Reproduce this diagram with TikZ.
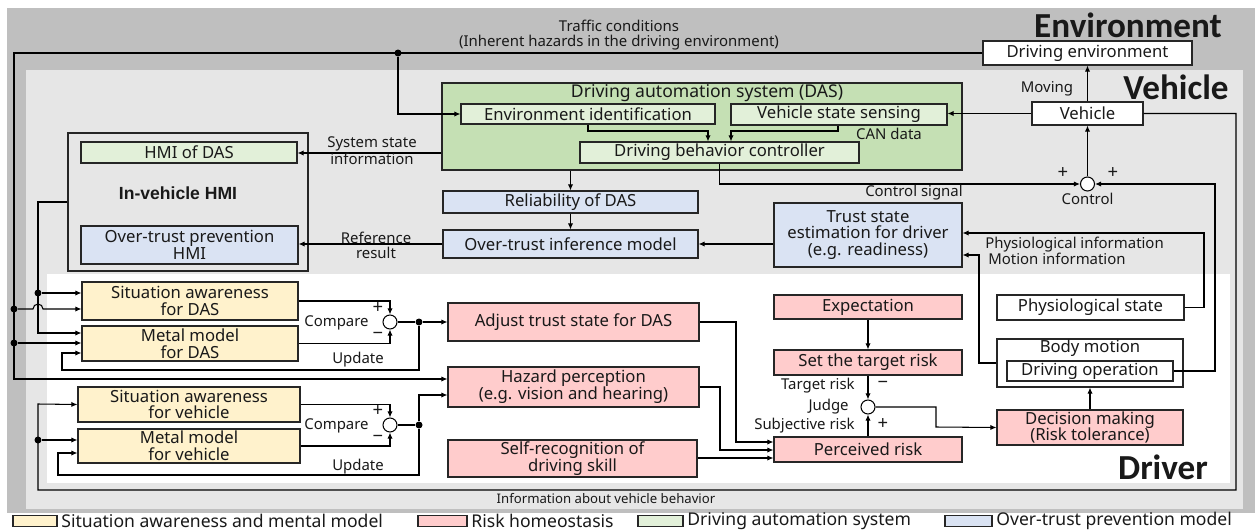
\documentclass[tikz,border=0pt]{standalone}
\usepackage{fontspec}
\setmainfont{Noto Sans}
\newfontfamily\titlefont{Carlito}
\newfontfamily\hmifont{Liberation Sans}
\usetikzlibrary{calc, arrows.meta, positioning}

\definecolor{envgray}{HTML}{BFBFBF}
\definecolor{vehgray}{HTML}{E6E6E6}
\definecolor{sayellow}{HTML}{FFF2CC}
\definecolor{riskpink}{HTML}{FFCCCC}
\definecolor{dasgreen}{HTML}{C5E0B4}
\definecolor{dasinner}{HTML}{E2F0D9}
\definecolor{otblue}{HTML}{DAE3F3}

\tikzset{wh/.style 2 args={minimum width=#1*0.02cm, minimum height=#2*0.02cm}}

\begin{document}
\begin{tikzpicture}[x=0.02cm, y=-0.02cm, font=\fontsize{9.5}{9.5}\selectfont, text=black!90]
	\tikzstyle{box} = [draw=black!85, line width=0.6pt, rectangle, inner sep=0pt, align=center]
	\tikzstyle{sabox} = [box, fill=sayellow]
	\tikzstyle{riskbox} = [box, fill=riskpink]
	\tikzstyle{dasbox} = [box, fill=dasinner]
	\tikzstyle{otbox} = [box, fill=otblue]
	\tikzstyle{plain} = [box, fill=white]
	\tikzstyle{sum} = [circle, draw=black, line width=0.6pt, fill=white, inner sep=0pt, minimum size=0.28cm]
	\tikzstyle{dot} = [circle, fill=black, inner sep=0pt, minimum size=0.14cm]
	\tikzstyle{arrow} = [line width=0.6pt, -{Latex[length=3.5pt, width=3pt]}]
	\tikzstyle{line} = [line width=0.6pt]
	\tikzstyle{lbl} = [inner sep=0pt, font=\fontsize{8.5}{8.5}\selectfont, align=center]
	\tikzstyle{sign} = [inner sep=0pt, font=\fontsize{10.5}{10.5}\selectfont]
	\tikzstyle{legendtext} = [inner sep=0pt, font=\fontsize{10}{10}\selectfont]

	\useasboundingbox (0,0) rectangle (1255,531);
	\fill[envgray] (7,8) rectangle (1255,513);
	\fill[vehgray] (26,70) rectangle (1243,509);
	\fill[white] (47,274) rectangle (1230,483);

	\node[font=\titlefont\bfseries\fontsize{20}{20}\selectfont] at (1128,25) (envtitle) {Environment};
	\node[font=\titlefont\bfseries\fontsize{20}{20}\selectfont] at (1176,87) (vehtitle) {Vehicle};
	\node[font=\titlefont\bfseries\fontsize{20}{20}\selectfont] at (1163,467) (drvtitle) {Driver};

	% vehicle and environment
	\node[plain, wh={209}{24}] at (1087.5,53) (drvenv) {Driving environment};
	\node[plain, wh={111}{23}] at (1087.5,113.5) (vehicle) {Vehicle};
	\node[sum] at (1087.5,184) (ctrl) {};

	% driving automation system
	\node[box, fill=dasgreen, wh={520}{87}] at (702,126.5) (das) {};
	\node[inner sep=0pt, font=\fontsize{10}{10}\selectfont] at (707,93) (dastitle) {Driving automation system (DAS)};
	\node[dasbox, wh={254}{20}] at (588,114) (envid) {Environment identification};
	\node[dasbox, wh={216}{21}] at (839,114.5) (vss) {Vehicle state sensing};
	\node[dasbox, wh={279}{21}] at (719.5,152.5) (dbc) {Driving behavior controller};

	% in-vehicle HMI
	\node[box, wh={240}{138}] at (188,202) (hmi) {};
	\node[dasbox, wh={216}{21}] at (189,152.5) (hmidas) {HMI of DAS};
	\node[font=\hmifont\bfseries\fontsize{10}{10}\selectfont] at (178,193) (hmititle) {In-vehicle HMI};
	\node[otbox, wh={217}{38}] at (189.5,245) (othmi) {Over-trust prevention\\HMI};

	% over-trust prevention model
	\node[otbox, wh={255}{22}] at (570.5,202) (rel) {Reliability of DAS};
	\node[otbox, wh={255}{28}] at (570.5,244) (otinf) {Over-trust inference model};
	\node[otbox, wh={188}{64}] at (868,235) (trust) {Trust state\\estimation for driver\\(e.g. readiness)};

	% situation awareness and mental model
	\node[sabox, wh={216}{38}] at (190,301) (sadas) {Situation awareness\\for DAS};
	\node[sabox, wh={216}{35}] at (190,343.5) (mmdas) {Metal model\\for DAS};
	\node[sabox, wh={222}{35}] at (189,404.5) (saveh) {Situation awareness\\for vehicle};
	\node[sabox, wh={222}{34}] at (189,446) (mmveh) {Metal model\\for vehicle};
	\node[sum] at (390,322) (cmp1) {};
	\node[sum] at (390,425) (cmp2) {};

	% risk homeostasis
	\node[riskbox, wh={251}{38}] at (573.5,322) (adjust) {Adjust trust state for DAS};
	\node[riskbox, wh={251}{40}] at (573.5,387) (hazard) {Hazard perception\\(e.g. vision and hearing)};
	\node[riskbox, wh={249}{37}] at (572.5,458.5) (self) {Self-recognition of\\driving skill};
	\node[riskbox, wh={188}{24}] at (868,307) (expect) {Expectation};
	\node[riskbox, wh={188}{25}] at (868,362.5) (target) {Set the target risk};
	\node[sum] at (868,407) (judge) {};
	\node[riskbox, wh={188}{25}] at (868,449.5) (perceived) {Perceived risk};
	\node[riskbox, wh={186}{35}] at (1090,427.5) (decision) {Decision making\\(Risk tolerance)};

	% driver body
	\node[plain, wh={187}{25}] at (1090.5,307.5) (physio) {Physiological state};
	\node[plain, wh={186}{48}] at (1090,363) (body) {};
	\node[inner sep=0pt] at (1090,348) (bodytitle) {Body motion};
	\node[plain, wh={166}{20}] at (1090,371) (drvop) {Driving operation};

	% traffic conditions
	\draw[arrow] (drvenv.west) -| (14,379) -- (hazard.west |- 0,379);
	\node[lbl] at (619,35) (traffic) {Traffic conditions\\(Inherent hazards in the driving environment)};
	\node[dot] at (398,53) (d0) {};
	\draw[arrow] (d0) |- (envid.west);
	\node[dot] at (14,309) (d1) {};
	\node[dot] at (14,343) (d2) {};
	\draw[arrow] (d1) -- (33,309) arc[start angle=180, end angle=360, radius=5] -- (sadas.west |- d1);
	\draw[arrow] (d2) -- (mmdas.west |- d2);

	% HMI to driver
	\draw[arrow] (hmi.west) -- (38,202) |- (mmdas.west |- 0,333);
	\node[dot] at (38,293) (d3) {};
	\draw[arrow] (d3) -- (sadas.west |- d3);

	% compare for DAS
	\draw[arrow] (sadas.east) -| (cmp1.north);
	\draw[arrow] (mmdas.east) -| (cmp1.south);
	\node[sign] at (378,308) {+};
	\node[sign] at (378,336) {−};
	\node[lbl, anchor=east] at (369,323) {Compare};
	\node[dot] at (419,322) (d4) {};
	\draw[line] (cmp1) -- (d4);
	\draw[arrow] (d4) -- (adjust.west);
	\draw[arrow] (d4) -- (419,370) -| (62,353) -- (mmdas.west |- 0,353);
	\node[lbl] at (358,360) {Update};

	% compare for vehicle
	\draw[arrow] (saveh.east) -| (cmp2.north);
	\draw[arrow] (mmveh.east) -| (cmp2.south);
	\node[sign] at (378,411) {+};
	\node[sign] at (378,439) {−};
	\node[lbl, anchor=east] at (369,426) {Compare};
	\node[dot] at (419,425) (d5) {};
	\draw[line] (cmp2) -- (d5);
	\draw[arrow] (d5) |- (hazard.west |- 0,395);
	\draw[arrow] (d5) -- (419,475) -| (58,453) -- (mmveh.west |- 0,453);
	\node[lbl] at (358,467) {Update};

	% information about vehicle behavior
	\draw[arrow] (vehicle.east) -| (1236,490) -| (38,404) -- (saveh.west);
	\node[dot] at (38,440) (d6) {};
	\draw[arrow] (d6) -- (mmveh.west |- d6);
	\node[lbl, font=\fontsize{7.5}{7.5}\selectfont] at (606,499) {Information about vehicle behavior};

	% inside DAS
	\draw[arrow] (envid.south) |- (708,131) -- (708,0 |- dbc.north);
	\draw[arrow] (vss.south -| 838,0) -- (838,131) -| (731,0 |- dbc.north);
	\node[lbl] at (889,134) {CAN data};
	\draw[arrow] (vehicle.west) -- (vss.east |- vehicle.west);
	\draw[arrow] (vehicle.north) -- (drvenv.south);
	\node[lbl] at (1047,89) {Moving};
	\draw[arrow] (ctrl.north) -- (vehicle.south);
	\draw[arrow] (dbc.south) |- (ctrl.west);
	\node[lbl, anchor=east] at (963,193) {Control signal};
	\node[sign] at (1063,173) {+};
	\node[sign] at (1113,173) {+};
	\node[lbl] at (1087.5,199) {Control};
	\draw[arrow] (drvop.east) -| (1215,184) -- (ctrl.east);

	% DAS to HMI and over-trust model
	\draw[arrow] (das.west |- 0,153) -- (hmidas.east |- 0,153);
	\node[lbl] at (372,151) {System state\\information};
	\draw[arrow] (das.south -| rel.north) -- (rel.north);
	\draw[arrow] (rel.south) -- (otinf.north);
	\draw[arrow] (trust.west |- otinf.east) -- (otinf.east);
	\draw[arrow] (otinf.west) -- (othmi.east |- otinf.west);
	\node[lbl] at (376,245) {Reference\\result};

	% driver state to trust estimation
	\draw[arrow] (physio.east) -| (1204,233) -- (trust.east |- 0,233);
	\node[lbl, anchor=west] at (985,245) {Physiological information};
	\draw[arrow] (body.west) -| (979,255) -- (trust.east |- 0,255);
	\node[lbl, anchor=west] at (988,259) {Motion information};

	% risk homeostasis loop
	\draw[arrow] (adjust.east) -| (736,442) -- (perceived.west |- 0,442);
	\draw[arrow] (hazard.east) -| (720,450) -- (perceived.west |- 0,450);
	\draw[arrow] (self.east |- 0,458) -- (perceived.west |- 0,458);
	\draw[arrow] (expect.south) -- (target.north);
	\draw[arrow] (target.south) -- (judge.north);
	\draw[arrow] (perceived.north) -- (judge.south);
	\node[sign] at (883,385) {−};
	\node[sign] at (883,424) {+};
	\node[lbl, anchor=east] at (855,386) {Target risk};
	\node[lbl, anchor=east] at (849,407) {Judge};
	\node[lbl, anchor=east] at (855,426) {Subjective risk};
	\draw[arrow] (judge.east) -| (936,427) -- (decision.west);
	\draw[arrow] (decision.north) -- (body.south);

	% legend
	\node[sabox, wh={44}{11}] at (35,521) (lg1) {};
	\node[legendtext, right=2pt of lg1] {Situation awareness and mental model};
	\node[riskbox, wh={49}{11}] at (442.5,521) (lg2) {};
	\node[legendtext, right=2pt of lg2] {Risk homeostasis};
	\node[dasbox, wh={45}{11}] at (660.5,521) (lg3) {};
	\node[legendtext, right=2pt of lg3] {Driving automation system};
	\node[otbox, wh={47}{11}] at (968.5,521) (lg4) {};
	\node[legendtext, right=2pt of lg4] {Over-trust prevention model};
\end{tikzpicture}
\end{document}
